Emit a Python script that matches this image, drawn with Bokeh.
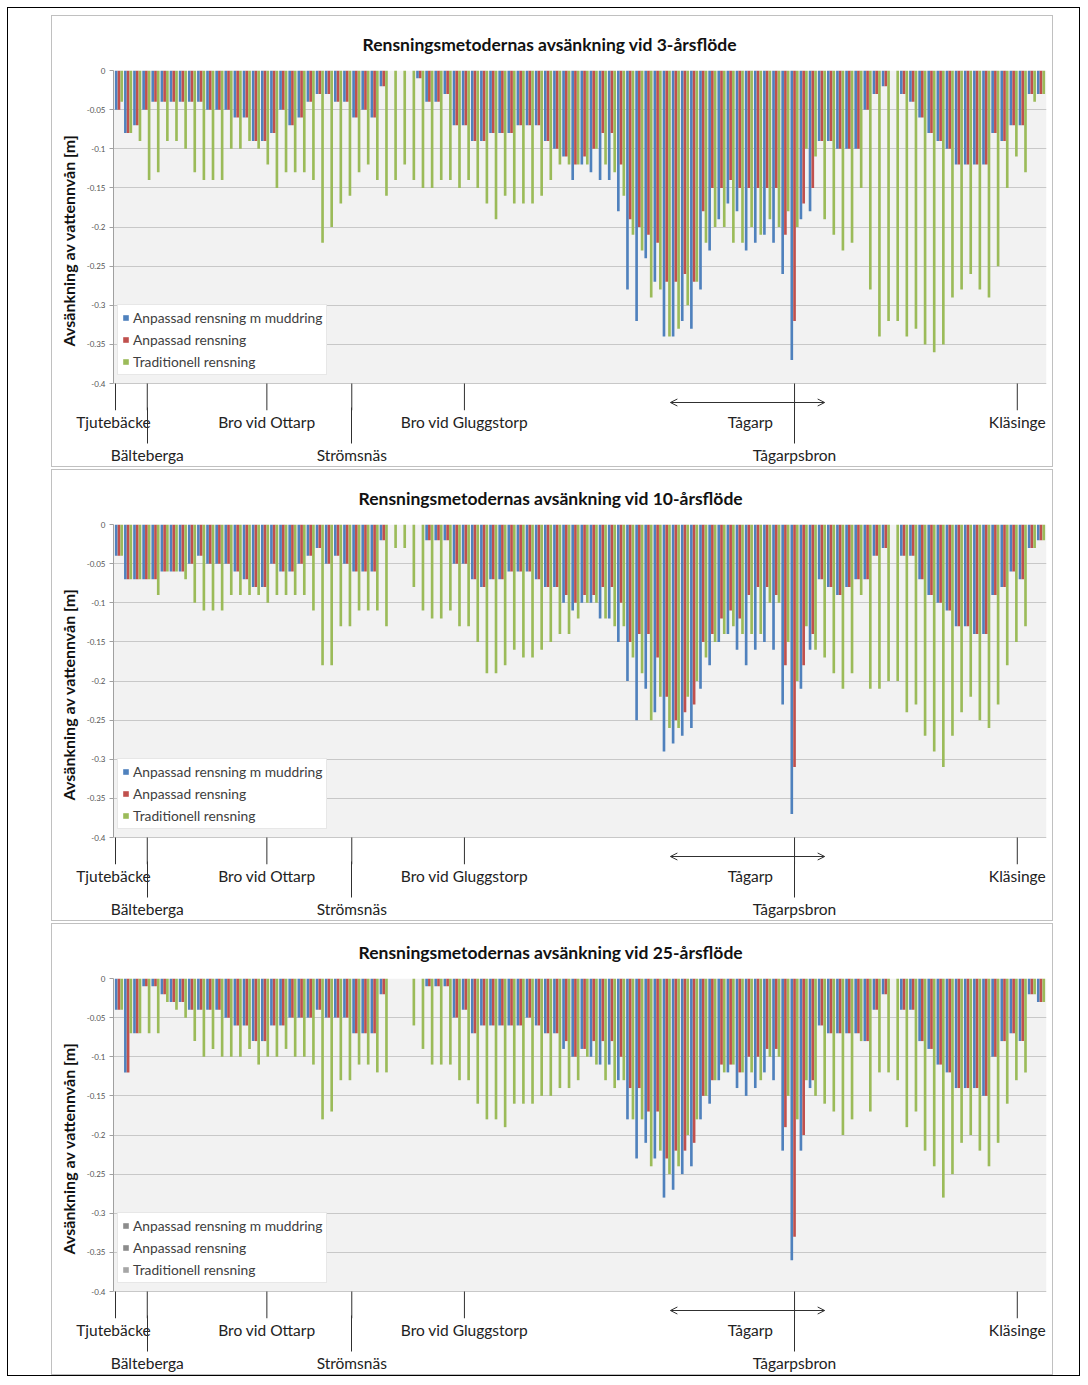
import math
from bokeh.plotting import figure
from bokeh.models import (ColumnDataSource, FixedTicker, Legend, LegendItem, LinearAxis,
                          Arrow, OpenHead, BoxAnnotation, Range1d, Title, Spacer)
from bokeh.transform import dodge
from bokeh.layouts import column, row
from bokeh.embed import file_html
from bokeh.resources import INLINE

# ---------------- data ----------------
sections = list(range(1, 103))  # cross sections along the river, upstream -> downstream

series_names = ["Anpassad rensning m muddring", "Anpassad rensning", "Traditionell rensning"]

# 3-year flow
muddring_3 = [-0.05, -0.08, -0.07, -0.05, -0.04, -0.04, -0.04, -0.04, -0.04, -0.04,
              -0.05, -0.05, -0.05, -0.06, -0.06, -0.09, -0.09, -0.08, -0.05, -0.07,
              -0.06, -0.04, -0.03, -0.03, -0.04, -0.04, -0.06, -0.05, -0.06, -0.02,
              0.0, 0.0, 0.0, -0.01, -0.04, -0.04, -0.03, -0.07, -0.07, -0.09,
              -0.09, -0.08, -0.08, -0.08, -0.07, -0.07, -0.07, -0.09, -0.10, -0.11,
              -0.14, -0.12, -0.13, -0.14, -0.14, -0.18, -0.28, -0.32, -0.24, -0.27,
              -0.34, -0.34, -0.32, -0.33, -0.28, -0.23, -0.19, -0.17, -0.18, -0.23,
              -0.22, -0.21, -0.22, -0.26, -0.37, -0.19, -0.18, -0.09, -0.09, -0.10,
              -0.10, -0.10, -0.05, -0.03, -0.02, 0.0, -0.03, -0.04, -0.06, -0.08,
              -0.09, -0.10, -0.12, -0.12, -0.12, -0.12, -0.08, -0.09, -0.07, -0.07,
              -0.03, -0.03]
anpassad_3 = [-0.05, -0.08, -0.07, -0.05, -0.04, -0.04, -0.04, -0.04, -0.04, -0.04,
              -0.05, -0.05, -0.05, -0.06, -0.06, -0.09, -0.09, -0.08, -0.05, -0.07,
              -0.06, -0.04, -0.03, -0.03, -0.04, -0.04, -0.06, -0.05, -0.06, -0.02,
              0.0, 0.0, 0.0, -0.01, -0.04, -0.04, -0.03, -0.07, -0.07, -0.09,
              -0.09, -0.08, -0.08, -0.08, -0.07, -0.07, -0.07, -0.09, -0.10, -0.11,
              -0.12, -0.11, -0.10, -0.08, -0.08, -0.12, -0.19, -0.20, -0.21, -0.22,
              -0.27, -0.27, -0.26, -0.27, -0.18, -0.15, -0.15, -0.14, -0.15, -0.15,
              -0.15, -0.15, -0.15, -0.21, -0.32, -0.17, -0.15, -0.09, -0.09, -0.10,
              -0.10, -0.10, -0.05, -0.03, -0.02, 0.0, -0.03, -0.04, -0.06, -0.08,
              -0.09, -0.10, -0.12, -0.12, -0.12, -0.12, -0.08, -0.09, -0.07, -0.07,
              -0.03, -0.03]
trad_3 = [-0.04, -0.08, -0.09, -0.14, -0.13, -0.09, -0.09, -0.10, -0.13, -0.14,
          -0.14, -0.14, -0.10, -0.10, -0.09, -0.10, -0.12, -0.15, -0.13, -0.13,
          -0.13, -0.14, -0.22, -0.20, -0.17, -0.16, -0.13, -0.12, -0.14, -0.16,
          -0.14, -0.12, -0.14, -0.15, -0.15, -0.14, -0.14, -0.15, -0.14, -0.15,
          -0.17, -0.19, -0.16, -0.17, -0.17, -0.17, -0.16, -0.14, -0.12, -0.12,
          -0.12, -0.12, -0.10, -0.12, -0.13, -0.16, -0.21, -0.23, -0.29, -0.28,
          -0.34, -0.33, -0.30, -0.27, -0.22, -0.20, -0.20, -0.22, -0.22, -0.20,
          -0.21, -0.19, -0.20, -0.18, -0.20, -0.10, -0.11, -0.19, -0.21, -0.23,
          -0.22, -0.15, -0.28, -0.34, -0.32, -0.32, -0.34, -0.33, -0.35, -0.36,
          -0.35, -0.29, -0.28, -0.26, -0.28, -0.29, -0.25, -0.15, -0.11, -0.13,
          -0.04, -0.03]

# 10-year flow
muddring_10 = [-0.04, -0.07, -0.07, -0.07, -0.07, -0.06, -0.06, -0.06, -0.05, -0.04,
               -0.05, -0.05, -0.05, -0.06, -0.07, -0.08, -0.08, -0.05, -0.06, -0.06,
               -0.05, -0.04, -0.03, -0.05, -0.04, -0.05, -0.06, -0.06, -0.06, -0.02,
               0.0, 0.0, 0.0, 0.0, -0.02, -0.02, -0.02, -0.05, -0.05, -0.07,
               -0.08, -0.07, -0.07, -0.06, -0.06, -0.06, -0.07, -0.08, -0.08, -0.10,
               -0.11, -0.10, -0.10, -0.12, -0.12, -0.15, -0.20, -0.25, -0.21, -0.24,
               -0.29, -0.28, -0.27, -0.26, -0.21, -0.18, -0.15, -0.14, -0.16, -0.18,
               -0.16, -0.15, -0.16, -0.23, -0.37, -0.21, -0.16, -0.07, -0.08, -0.09,
               -0.08, -0.07, -0.07, -0.04, -0.03, 0.0, -0.04, -0.04, -0.07, -0.09,
               -0.10, -0.11, -0.13, -0.13, -0.14, -0.14, -0.09, -0.08, -0.06, -0.07,
               -0.03, -0.02]
anpassad_10 = [-0.04, -0.07, -0.07, -0.07, -0.07, -0.06, -0.06, -0.06, -0.05, -0.04,
               -0.05, -0.05, -0.05, -0.06, -0.07, -0.08, -0.08, -0.05, -0.06, -0.06,
               -0.05, -0.04, -0.03, -0.05, -0.04, -0.05, -0.06, -0.06, -0.06, -0.02,
               0.0, 0.0, 0.0, 0.0, -0.02, -0.02, -0.02, -0.05, -0.05, -0.07,
               -0.08, -0.07, -0.07, -0.06, -0.06, -0.06, -0.07, -0.08, -0.08, -0.09,
               -0.10, -0.09, -0.09, -0.08, -0.08, -0.10, -0.15, -0.14, -0.14, -0.17,
               -0.22, -0.25, -0.24, -0.23, -0.15, -0.14, -0.12, -0.11, -0.12, -0.09,
               -0.08, -0.08, -0.09, -0.18, -0.31, -0.18, -0.14, -0.07, -0.08, -0.09,
               -0.08, -0.07, -0.07, -0.04, -0.03, 0.0, -0.04, -0.04, -0.07, -0.09,
               -0.10, -0.11, -0.13, -0.13, -0.14, -0.14, -0.09, -0.08, -0.06, -0.07,
               -0.03, -0.02]
trad_10 = [-0.04, -0.07, -0.07, -0.07, -0.09, -0.06, -0.06, -0.07, -0.10, -0.11,
           -0.11, -0.11, -0.09, -0.09, -0.09, -0.09, -0.10, -0.09, -0.09, -0.09,
           -0.09, -0.11, -0.18, -0.18, -0.13, -0.13, -0.11, -0.11, -0.11, -0.13,
           -0.03, -0.03, -0.08, -0.11, -0.12, -0.12, -0.11, -0.13, -0.13, -0.15,
           -0.19, -0.19, -0.18, -0.16, -0.17, -0.17, -0.16, -0.15, -0.14, -0.14,
           -0.12, -0.10, -0.10, -0.12, -0.13, -0.13, -0.17, -0.19, -0.25, -0.22,
           -0.26, -0.26, -0.22, -0.20, -0.17, -0.15, -0.14, -0.13, -0.14, -0.14,
           -0.14, -0.10, -0.10, -0.15, -0.20, -0.13, -0.16, -0.17, -0.19, -0.21,
           -0.19, -0.09, -0.21, -0.21, -0.20, -0.20, -0.24, -0.23, -0.27, -0.29,
           -0.31, -0.27, -0.24, -0.22, -0.25, -0.26, -0.23, -0.18, -0.15, -0.13,
           -0.03, -0.02]

# 25-year flow
muddring_25 = [-0.04, -0.12, -0.07, -0.01, -0.01, -0.02, -0.03, -0.03, -0.04, -0.04,
               -0.04, -0.04, -0.05, -0.06, -0.06, -0.08, -0.08, -0.06, -0.06, -0.05,
               -0.05, -0.05, -0.04, -0.05, -0.05, -0.05, -0.07, -0.07, -0.07, -0.02,
               0.0, 0.0, 0.0, 0.0, -0.01, -0.01, -0.01, -0.05, -0.04, -0.07,
               -0.06, -0.06, -0.06, -0.06, -0.06, -0.05, -0.06, -0.07, -0.07, -0.09,
               -0.10, -0.09, -0.10, -0.11, -0.11, -0.13, -0.18, -0.23, -0.21, -0.23,
               -0.28, -0.27, -0.25, -0.24, -0.18, -0.16, -0.13, -0.12, -0.14, -0.15,
               -0.14, -0.12, -0.13, -0.22, -0.36, -0.22, -0.14, -0.06, -0.07, -0.07,
               -0.07, -0.07, -0.08, -0.04, -0.02, 0.0, -0.04, -0.04, -0.08, -0.09,
               -0.11, -0.12, -0.14, -0.14, -0.14, -0.15, -0.10, -0.08, -0.07, -0.08,
               -0.02, -0.03]
anpassad_25 = [-0.04, -0.12, -0.07, -0.01, -0.01, -0.02, -0.03, -0.03, -0.04, -0.04,
               -0.04, -0.04, -0.05, -0.06, -0.06, -0.08, -0.08, -0.06, -0.06, -0.05,
               -0.05, -0.05, -0.04, -0.05, -0.05, -0.05, -0.07, -0.07, -0.07, -0.02,
               0.0, 0.0, 0.0, 0.0, -0.01, -0.01, -0.01, -0.05, -0.04, -0.07,
               -0.06, -0.06, -0.06, -0.06, -0.06, -0.05, -0.06, -0.07, -0.07, -0.08,
               -0.10, -0.09, -0.08, -0.08, -0.08, -0.10, -0.14, -0.14, -0.17, -0.17,
               -0.23, -0.22, -0.22, -0.21, -0.15, -0.13, -0.11, -0.11, -0.12, -0.10,
               -0.10, -0.09, -0.09, -0.19, -0.33, -0.20, -0.13, -0.06, -0.07, -0.07,
               -0.07, -0.07, -0.08, -0.04, -0.02, 0.0, -0.04, -0.04, -0.08, -0.09,
               -0.11, -0.12, -0.14, -0.14, -0.14, -0.15, -0.10, -0.08, -0.07, -0.08,
               -0.02, -0.03]
trad_25 = [-0.04, -0.07, -0.07, -0.07, -0.07, -0.03, -0.04, -0.05, -0.08, -0.10,
           -0.09, -0.10, -0.10, -0.10, -0.09, -0.11, -0.10, -0.10, -0.09, -0.10,
           -0.10, -0.11, -0.18, -0.17, -0.13, -0.13, -0.11, -0.11, -0.12, -0.12,
           0.0, 0.0, -0.06, -0.09, -0.11, -0.11, -0.11, -0.13, -0.13, -0.16,
           -0.18, -0.18, -0.19, -0.16, -0.16, -0.16, -0.15, -0.15, -0.14, -0.14,
           -0.13, -0.10, -0.11, -0.13, -0.14, -0.13, -0.18, -0.18, -0.24, -0.22,
           -0.25, -0.24, -0.20, -0.18, -0.15, -0.13, -0.12, -0.11, -0.12, -0.12,
           -0.13, -0.10, -0.10, -0.15, -0.18, -0.13, -0.15, -0.16, -0.17, -0.20,
           -0.18, -0.08, -0.17, -0.12, -0.12, -0.13, -0.19, -0.17, -0.22, -0.24,
           -0.28, -0.25, -0.21, -0.20, -0.22, -0.24, -0.21, -0.16, -0.13, -0.12,
           -0.02, -0.03]

titles = ["Rensningsmetodernas avsänkning vid 3-årsflöde",
          "Rensningsmetodernas avsänkning vid 10-årsflöde",
          "Rensningsmetodernas avsänkning vid 25-årsflöde"]

y_ticks = [0, -0.05, -0.1, -0.15, -0.2, -0.25, -0.3, -0.35, -0.4]
y_tick_labels = ["0", "-0.05", "-0.1", "-0.15", "-0.2", "-0.25", "-0.3", "-0.35", "-0.4"]
y_title = "Avsänkning av vattennvån [m]"

# places along the river (position in section units)
upper_names = ["Tjutebäcke", "Bro vid Ottarp", "Bro vid Gluggstorp", "Tågarp", "Kläsinge"]
upper_label_pos = [0.4, 17.2, 38.84, 70.17, 99.4]
upper_line_pos = [0.62, 17.2, 38.84, 99.4]
lower_names = ["Bälteberga", "Strömsnäs", "Tågarpsbron"]
lower_pos = [4.1, 26.5, 75.0]
reach_start, reach_end = 61.4, 78.3     # extent of the Tågarp reach

# ---------------- styling / layout ----------------
SERIES_COLORS = ["#4F81BD", "#C0504D", "#9BBB59"]
GREY_LEGEND = ["#8c8c8c", "#8c8c8c", "#a6a6a6"]
OFFSETS = [-0.3, 0.0, 0.3]
FONT = "Lato"
PX = 0.4 / 313.0                       # data units per pixel
Y_BOTTOM = -340 * PX                   # frame reaches 27 px below the -0.4 line
TITLE_OFFSETS = [249, 245, 245]


def place_axis(p, ticks, names, tick_in, tick_out, standoff):
    ax = LinearAxis(ticker=FixedTicker(ticks=ticks),
                    major_label_overrides={t: n for t, n in zip(ticks, names)},
                    axis_line_color=None, major_tick_line_color="#303030",
                    major_tick_in=tick_in, major_tick_out=tick_out,
                    minor_tick_line_color=None, major_label_standoff=standoff,
                    major_label_text_font=FONT, major_label_text_font_size="15.5px",
                    major_label_text_color="#222222")
    p.add_layout(ax, "below")
    return ax


def make_panel(k, muddring, anpassad, trad, legend_colors):
    p = figure(width=1002, height=452,
               x_range=Range1d(0.4, 102.6), y_range=Range1d(Y_BOTTOM, 0.0),
               output_backend="svg", toolbar_location=None,
               min_border_left=61, min_border_right=8, min_border_top=54, min_border_bottom=58,
               background_fill_color="white", border_fill_color="white",
               outline_line_color=None, x_axis_location=None)
    p.title = Title(text=titles[k], align="left", offset=TITLE_OFFSETS[k], standoff=31,
                    text_font=FONT, text_font_size="17.5px", text_font_style="bold",
                    text_color="#111111")
    p.xgrid.visible = False

    p.yaxis.ticker = FixedTicker(ticks=y_ticks)
    p.yaxis.major_label_overrides = {t: l for t, l in zip(y_ticks, y_tick_labels)}
    p.yaxis.bounds = (-0.4, 0.0)
    p.yaxis.axis_line_color = "#a0a0a0"
    p.yaxis.major_tick_line_color = "#a0a0a0"
    p.yaxis.major_tick_out = 4
    p.yaxis.major_tick_in = 0
    p.yaxis.minor_tick_line_color = None
    p.yaxis.major_label_text_font = FONT
    p.yaxis.major_label_text_font_size = "8px"
    p.yaxis.major_label_text_color = "#555555"
    p.yaxis.major_label_standoff = 4
    p.yaxis.axis_label = y_title
    p.yaxis.axis_label_text_font = FONT
    p.yaxis.axis_label_text_font_size = "16px"
    p.yaxis.axis_label_text_font_style = "bold"
    p.yaxis.axis_label_text_color = "#111111"
    p.yaxis.axis_label_standoff = 6

    p.ygrid.grid_line_color = "#c8c8c8"
    p.ygrid.grid_line_width = 1

    # grey plot area
    p.add_layout(BoxAnnotation(bottom=-0.4, top=0.0, fill_color="#f2f2f2", fill_alpha=1.0,
                               line_color=None, level="image"))

    src = ColumnDataSource(dict(section=sections, muddring=muddring,
                                anpassad=anpassad, trad=trad))
    bars = []
    for field, off, col in zip(["muddring", "anpassad", "trad"], OFFSETS, SERIES_COLORS):
        bars.append(p.vbar(x=dodge("section", off), width=0.29, top=0, bottom=field,
                           source=src, fill_color=col, line_color=None))

    # legend
    items = []
    for name, col, b in zip(series_names, legend_colors, bars):
        if col in SERIES_COLORS:
            r = b
        else:
            r = p.vbar(x=sections[:1], top=[0], bottom=[0], width=0.29,
                       fill_color=col, line_color=None)
        items.append(LegendItem(label=name, renderers=[r]))
    leg = Legend(items=items, location=(4, 35), orientation="vertical",
                 label_text_font=FONT, label_text_font_size="13.8px",
                 label_text_color="#404040", glyph_width=7, glyph_height=7,
                 label_height=16, label_standoff=4, spacing=5, padding=4, margin=0,
                 border_line_color="#d0d0d0", background_fill_color="white",
                 background_fill_alpha=1.0)
    p.add_layout(leg)

    # place markers under the plot
    all_lines = upper_line_pos + lower_pos
    p.segment(x0=all_lines, y0=[-0.4] * len(all_lines), x1=all_lines,
              y1=[Y_BOTTOM] * len(all_lines), line_color="#303030", line_width=1)
    p.add_layout(Arrow(start=OpenHead(size=7, line_width=1, line_color="#303030"),
                       end=OpenHead(size=7, line_width=1, line_color="#303030"),
                       x_start=reach_start, y_start=-0.4243, x_end=reach_end, y_end=-0.4243,
                       line_color="#303030", line_width=1))
    place_axis(p, upper_label_pos, upper_names, 0, 0, 2)
    place_axis(p, lower_pos, lower_names, 26, 10, 2)
    return p


p1 = make_panel(0, muddring_3, anpassad_3, trad_3, SERIES_COLORS)
p2 = make_panel(1, muddring_10, anpassad_10, trad_10, SERIES_COLORS)
p3 = make_panel(2, muddring_25, anpassad_25, trad_25, GREY_LEGEND)

for p in (p1, p2, p3):
    p.margin = (0, 26, 0, 43)
    p.styles = {"border": "1px solid #c0c0c0"}

inner = column(Spacer(width=1000, height=5), p1, p2, p3, spacing=2,
               styles={"border": "1px solid black"})
layout = column(Spacer(width=10, height=7), row(Spacer(width=7, height=10), inner))

open("out.html", "w").write(file_html(layout, INLINE))
